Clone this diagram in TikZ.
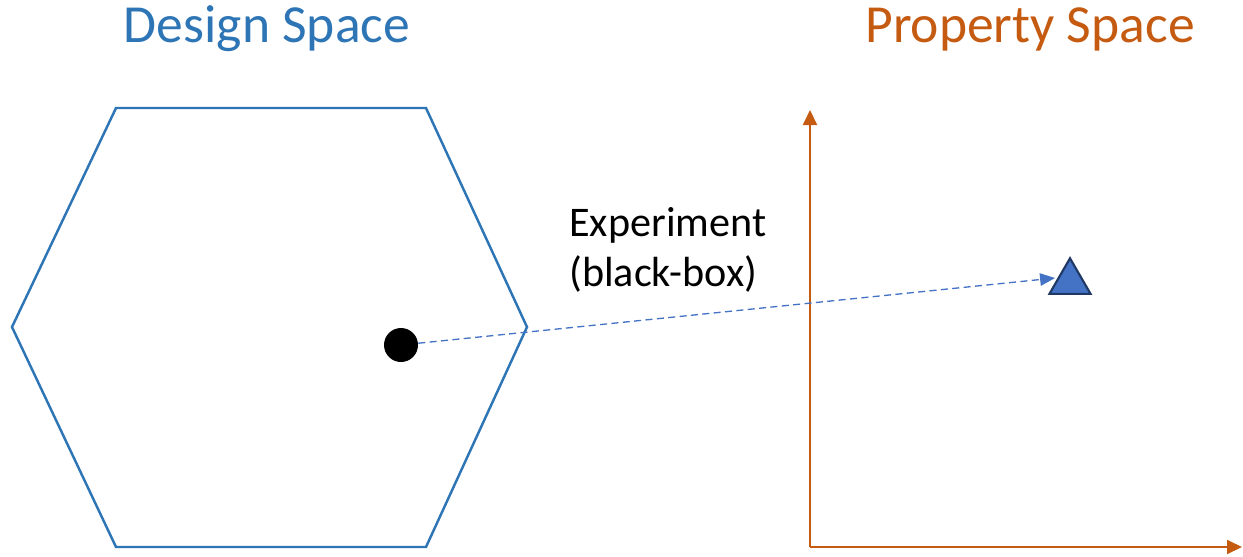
\documentclass[tikz,border=0pt]{standalone}
\usepackage{fontspec}
\setmainfont{Carlito}
\usetikzlibrary{positioning,arrows.meta,shapes.geometric}
\definecolor{designblue}{HTML}{2E75B6}
\definecolor{proporange}{HTML}{C55A11}
\definecolor{probeblue}{HTML}{4472C4}
\definecolor{darknavy}{HTML}{1F3864}

\begin{document}
\begin{tikzpicture}[x=0.02cm,y=0.02cm]
\useasboundingbox (0,0) rectangle (1243,556);
% titles
\node[text=designblue, font=\fontsize{30.5}{36}\selectfont] (designtitle) at (267,527) {Design Space};
\node[text=proporange, font=\fontsize{30.5}{36}\selectfont] (proptitle) at (1030,527) {Property Space};
% design space
\draw[draw=designblue, line width=1.4pt, line join=miter] (116,448) -- (426,448) -- (527,229) -- (426,9) -- (116,9) -- (12,229) -- cycle;
\node[circle, fill=black, inner sep=0pt, minimum size=0.68cm] (design) at (401,211) {};
% property space
\coordinate (origin) at (810,9);
\coordinate (ytip) at (810,446);
\coordinate (xtip) at (1242,9);
\draw[draw=proporange, line width=1.1pt, -{Triangle[length=0.3cm,width=0.28cm]}] (origin) -- (ytip);
\draw[draw=proporange, line width=1.1pt, -{Triangle[length=0.3cm,width=0.28cm]}] (origin) -- (xtip);
\node[regular polygon, regular polygon sides=3, fill=probeblue, draw=darknavy, line width=1.2pt, inner sep=0pt, minimum size=0.95cm] (property) at (1070,274) {};
% experiment
\draw[draw=probeblue, line width=0.75pt, dash pattern=on 4pt off 2.5pt, -{Triangle[length=0.3cm,width=0.25cm]}] (design) -- ([yshift=0.08cm]property.west);
\node[anchor=north west, align=left, font=\fontsize{24}{28.5}\selectfont, inner sep=0pt] (explabel) at (569,349) {Experiment\\(black-box)};
\end{tikzpicture}
\end{document}
